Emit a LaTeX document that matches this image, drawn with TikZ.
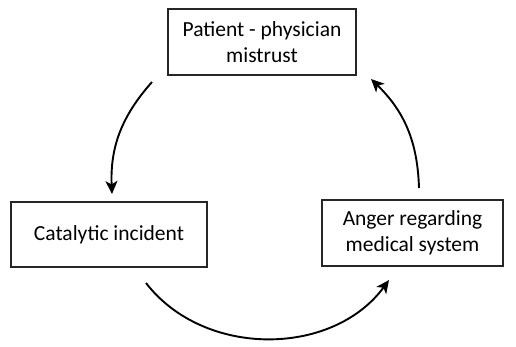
\documentclass[tikz,border=0pt]{standalone}
\usepackage{fontspec}
\setmainfont{Carlito}
\usetikzlibrary{arrows.meta}
\begin{document}
\begin{tikzpicture}[x=1pt,y=1pt,
  box/.style={draw=black!85, line width=1.3pt, align=center, inner sep=0pt,
              font=\fontsize{21.5}{26}\selectfont},
  flow/.style={line width=1.9pt, -{Stealth[length=13pt,width=12pt,inset=3.5pt]}}]
\useasboundingbox (0,0) rectangle (516,-346);
\node[box, minimum width=188pt, minimum height=66pt] (top) at (262,-42) {Patient - physician\\mistrust};
\node[box, minimum width=196pt, minimum height=65pt] (left) at (109,-234.5) {Catalytic incident};
\node[box, minimum width=181pt, minimum height=66pt] (right) at (412.5,-233) {Anger regarding\\medical system};
\coordinate (a1s) at (152,-82);
\coordinate (a1e) at (112,-194);
\draw[flow] (a1s) to[bend right=22] (a1e);
\coordinate (a3s) at (146,-283);
\coordinate (a3e) at (389,-280);
\draw[flow] (a3s) to[bend right=53] (a3e);
\coordinate (a2s) at (419,-188);
\coordinate (a2e) at (371,-79);
\draw[flow] (a2s) to[bend right=22] (a2e);
\end{tikzpicture}
\end{document}
